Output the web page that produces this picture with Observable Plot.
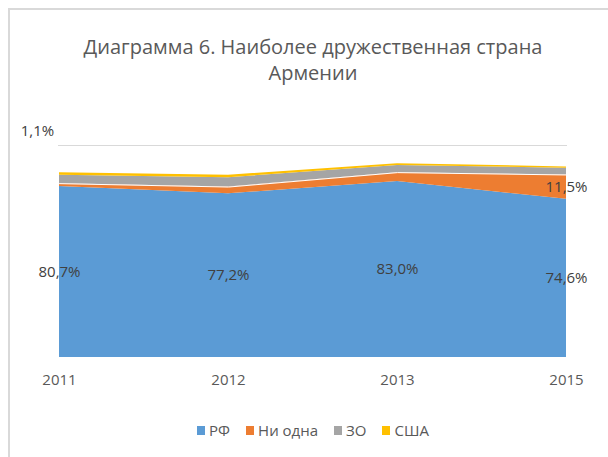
<!DOCTYPE html>
<html>
<head>
<meta charset="utf-8">
<script src="https://cdn.jsdelivr.net/npm/d3@7"></script>
<script src="https://cdn.jsdelivr.net/npm/@observablehq/plot@0.6"></script>
<style>
  html, body { margin: 0; padding: 0; background: #fff; }
  #wrap { position: relative; width: 608px; height: 457px; overflow: hidden; font-family: "Open Sans", sans-serif; color: #595959; }
  #frame { position: absolute; left: 8px; top: 8px; width: 700px; height: 600px; border: 2px solid #d9d9d9; box-sizing: border-box; }
  #title { position: absolute; left: 8px; width: 610px; top: 34px; text-align: center; font-size: 20px; line-height: 26px; }
  #chart { position: absolute; left: 0; top: 0; }
  #legend { position: absolute; left: 8px; width: 610px; top: 421px; display: flex; justify-content: center; font-size: 15px; line-height: 18px; }
  .item { display: flex; align-items: center; margin: 0 8px; }
  .sw { width: 8px; height: 9px; margin-right: 4px; }
</style>
</head>
<body>
<div id="wrap">
  <div id="frame"></div>
  <div id="chart"></div>
  <div id="title">Диаграмма 6. Наиболее дружественная страна<br>Армении</div>
  <div id="legend"></div>
</div>
<script>
const years = ["2011", "2012", "2013", "2015"];
const series = ["РФ", "Ни одна", "ЗО", "США"];
const colors = ["#5b9bd5", "#ed7d31", "#a5a5a5", "#ffc000"];
const rf = [80.7, 77.2, 83.0, 74.6];
const none = [1.3, 3.2, 4.2, 11.5];
const zo = [4.0, 4.4, 3.4, 3.2];
const usa = [1.1, 1.2, 0.8, 0.6];
// which values carry a data label
const showRF = [true, true, true, true];
const showNone = [false, false, false, true];
const showUSA = [true, false, false, false];

const values = [rf, none, zo, usa];
const shows = [showRF, showNone, null, showUSA];
const data = years.flatMap((year, i) => series.map((s, j) => ({
  year, series: s, value: values[j][i],
  label: (shows[j] && shows[j][i]) ? values[j][i].toFixed(1).replace(".", ",") + "%" : ""
})));

const chart = Plot.plot({
  width: 608,
  height: 457,
  marginLeft: 58,
  marginRight: 41,
  marginTop: 145,
  marginBottom: 100,
  x: {type: "point", domain: years, padding: 0, tickSize: 0, tickPadding: 17, label: null},
  y: {domain: [0, 100], axis: null},
  color: {domain: series, range: colors},
  style: {fontFamily: "Open Sans", fontSize: "15px", color: "#595959", background: "transparent"},
  marks: [
    Plot.ruleY([100], {stroke: "#d9d9d9", strokeWidth: 1}),
    Plot.areaY(data, {x: "year", y: "value", fill: "series", order: series}),
    Plot.lineY(data, Plot.stackY2({
      x: "year", y: "value", z: "series", order: series,
      stroke: "white", strokeWidth: 1,
      strokeOpacity: d => d.series === "Ни одна" ? 1 : 0
    })),
    Plot.text(data, Plot.stackY({
      x: "year", y: "value", z: "series", order: series,
      text: d => d.series === "США" ? "" : d.label,
      fill: "#404040", fontSize: 15
    })),
    Plot.text(data, Plot.stackY({
      x: "year", y: "value", z: "series", order: series,
      text: d => d.series === "США" ? d.label : "",
      fill: "#404040", fontSize: 15, dx: -22, dy: -43
    }))
  ]
});
document.getElementById("chart").appendChild(chart);

const legend = document.getElementById("legend");
series.forEach((s, i) => {
  const item = document.createElement("div");
  item.className = "item";
  const sw = document.createElement("div");
  sw.className = "sw";
  sw.style.background = colors[i];
  const t = document.createElement("span");
  t.textContent = s;
  item.appendChild(sw);
  item.appendChild(t);
  legend.appendChild(item);
});
</script>
</body>
</html>
